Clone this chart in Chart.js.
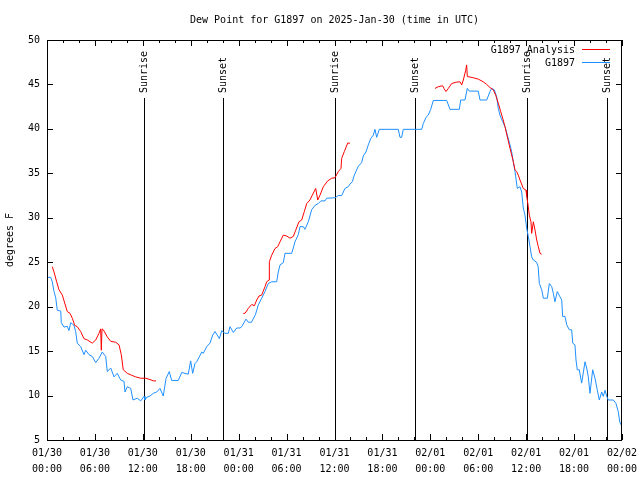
<!DOCTYPE html>
<html>
<head>
<meta charset="utf-8">
<script src="https://cdn.jsdelivr.net/npm/chart.js@4"></script>
<style>
  body { margin: 0; background: #fff; }
  canvas { display: block; }
</style>
</head>
<body>
<canvas id="myChart" width="640" height="480"></canvas>
<script>
// Dados (horas desde 01/30 00:00 UTC)
const stationHours = [0, 0.46, 0.66, 0.88, 1.09, 1.29, 1.72, 1.79, 2.13, 2.54, 2.75, 2.97, 3.38, 3.59, 3.79, 4.22, 4.63, 4.85, 5.26, 5.67,
  6.1, 6.51, 6.92, 7.35, 7.55, 7.98, 8.39, 8.8, 9.23, 9.64, 9.77, 10.05, 10.48, 10.77, 11.3, 11.73, 12.15, 12.27, 12.48, 12.9,
  13.31, 13.74, 14.15, 14.56, 14.9, 15.31, 15.61, 16.44, 16.87, 17.69, 17.99, 18.24, 18.53, 18.74, 19.07, 19.37, 19.57, 20.0, 20.41, 20.75,
  21.04, 21.32, 21.58, 21.88, 22.29, 22.7, 22.92, 23.33, 23.75, 24.17, 24.38, 24.92, 25.2, 25.6, 26.1, 26.46, 26.88, 27.3, 27.7, 28.14,
  28.76, 28.96, 29.18, 29.59, 29.8, 30.64, 30.84, 31.05, 31.47, 31.68, 32.09, 32.3, 32.72, 33.14, 33.56, 33.97, 34.3, 34.81, 35.02, 36.06,
  36.48, 36.9, 37.31, 37.73, 37.94, 38.23, 38.48, 38.98, 39.4, 39.6, 39.94, 40.23, 40.53, 40.86, 41.07, 41.28, 41.61, 43.99, 44.2, 44.41,
  44.61, 46.92, 47.12, 47.46, 47.74, 48.05, 48.37, 50.05, 50.46, 51.63, 51.8, 52.34, 52.63, 52.88, 54.0, 54.22, 55.06, 55.47, 55.68, 56.01,
  56.31, 56.51, 56.72, 57.06, 57.35, 57.64, 57.98, 58.19, 58.39, 58.6, 58.89, 59.23, 59.44, 59.64, 59.85, 60.07, 60.27, 60.48, 60.69, 60.9,
  61.3, 61.5, 61.65, 61.95, 62.15, 62.65, 62.9, 63.2, 63.4, 63.6, 63.9, 64.24, 64.45, 64.57, 64.86, 65.08, 65.4, 65.7, 65.83, 66.11,
  66.24, 66.4, 66.65, 66.95, 67.37, 67.58, 67.78, 67.99, 68.33, 68.62, 68.91, 69.16, 69.46, 69.66, 69.87, 70.09, 70.29, 70.92, 71.25, 71.53,
  71.74, 71.9];
const stationDew = [23.3, 23.3, 22.8, 21.7, 21.0, 19.6, 19.5, 18.2, 17.7, 17.8, 17.3, 18.2, 17.9, 17.2, 15.9, 15.5, 14.6, 15.1, 14.6, 14.4,
  13.7, 14.2, 14.9, 14.4, 12.7, 13.1, 12.1, 12.5, 11.75, 11.6, 10.4, 11.0, 10.8, 9.5, 9.7, 9.4, 9.9, 9.5, 9.8, 9.95,
  10.25, 10.4, 10.8, 9.95, 11.9, 12.7, 11.7, 11.7, 12.6, 12.4, 13.9, 12.5, 13.6, 13.8, 14.35, 14.9, 14.75, 15.5, 15.9, 16.8,
  17.2, 16.8, 16.4, 17.3, 17.0, 17.0, 17.75, 17.1, 17.6, 17.6, 17.75, 18.6, 18.25, 18.25, 19.1, 20.2, 20.95, 21.7, 22.6, 22.8,
  22.8, 23.9, 24.7, 24.95, 26.0, 26.0, 26.6, 27.3, 28.1, 29.0, 29.0, 28.7, 29.55, 30.9, 31.4, 31.6, 31.9, 31.9, 32.2, 32.25,
  32.5, 32.5, 33.3, 33.5, 33.8, 34.05, 34.8, 35.8, 36.2, 36.95, 37.4, 38.2, 38.9, 39.3, 39.95, 39.05, 39.95, 39.95, 39.05, 39.05,
  39.95, 39.95, 40.6, 41.3, 41.55, 42.2, 43.2, 43.2, 42.2, 42.2, 43.25, 43.25, 44.55, 44.25, 44.25, 43.25, 43.25, 44.2, 44.55, 44.4,
  43.6, 42.3, 41.55, 40.8, 40.25, 39.3, 38.2, 37.4, 36.3, 35.2, 33.3, 33.5, 32.9, 31.1, 30.3, 28.8, 27.9, 26.75, 25.6, 25.25,
  25.0, 24.5, 22.6, 21.9, 20.95, 20.95, 22.6, 22.25, 21.5, 20.55, 21.7, 21.1, 20.75, 18.9, 18.9, 17.95, 17.4, 17.4, 15.9, 15.7,
  14.0, 12.9, 12.9, 11.4, 13.8, 13.1, 12.1, 10.25, 12.9, 11.95, 10.6, 9.5, 10.4, 9.9, 10.6, 9.9, 9.5, 9.5, 9.1, 8.2,
  6.95, 6.7];

// Análise: null separa os trechos sem dados
const analysisHours = [0.66, 0.88, 1.21, 1.5, 1.92, 2.22, 2.54, 2.88, 3.17, 3.47, 3.79, 4.22, 4.63, 5.05, 5.67, 6.1, 6.51, 6.72, 6.8, 6.89,
  7.05, 7.55, 7.98, 8.6, 9.02, 9.3, 9.55, 10.05, 10.56, 11.1, 11.73, 12.36, 12.9, 13.31, 13.65,
  18,
  24.58, 24.8, 25.2, 25.63, 25.96, 26.26, 26.55, 26.88, 27.3, 27.51, 27.8, 27.84, 28.14, 28.55, 28.89, 29.18, 29.59, 30.02, 30.43, 30.84,
  31.14, 31.55, 31.89, 32.22, 32.52, 32.93, 33.22, 33.65, 33.9, 34.19, 34.6, 35.15, 35.65, 36.06, 36.48, 36.81, 36.9, 37.23, 37.65, 37.94,
  42,
  48.58, 49.0, 49.55, 49.71, 49.96, 50.25, 50.67, 51.21, 51.71, 51.93, 52.13, 52.43, 52.55, 52.63, 53.38, 54.0, 54.63, 55.06, 55.47, 55.88,
  56.18, 56.51, 56.81, 57.06, 57.35, 57.64, 57.98, 58.19, 58.39, 58.6, 58.81, 59.01, 59.23, 59.64, 59.98, 60.07, 60.27, 60.39, 60.6, 60.69,
  60.9, 61.11, 61.32, 61.52, 61.73, 61.94];
const analysisDew = [24.5, 23.9, 22.8, 21.9, 21.3, 20.4, 19.45, 19.25, 18.7, 17.9, 17.75, 17.2, 16.4, 16.25, 15.9, 16.25, 17.0, 17.5, 15.1, 17.5,
  17.4, 16.6, 16.1, 16.0, 15.7, 14.6, 12.9, 12.5, 12.3, 12.1, 11.95, 11.95, 11.8, 11.65, 11.65,
  null,
  19.25, 19.25, 19.8, 20.25, 20.1, 20.75, 21.2, 21.3, 22.25, 22.8, 23.0, 25.05, 25.8, 26.55, 26.75, 27.3, 28.05, 27.95, 27.7, 27.9,
  28.6, 29.55, 29.75, 30.7, 31.6, 32.0, 32.55, 33.3, 32.0, 32.55, 33.5, 34.15, 34.45, 34.5, 35.2, 35.55, 36.7, 37.45, 38.4, 38.4,
  null,
  44.55, 44.75, 44.85, 44.55, 44.2, 44.55, 45.1, 45.25, 45.3, 44.95, 45.5, 46.6, 47.2, 45.9, 45.75, 45.6, 45.3, 45.0, 44.65, 44.4,
  43.8, 42.9, 41.95, 41.2, 40.25, 39.1, 37.8, 37.05, 36.3, 35.4, 35.2, 34.8, 34.25, 33.3, 33.1, 32.4, 31.25, 30.3, 29.55, 28.25,
  29.55, 28.6, 27.5, 26.75, 26.0, 25.9];

// Nascer / pôr do sol
const sunHours = [12.2, 22.05, 36.08, 46.1, 60.12, 70.14];
const sunNames = ['Sunrise', 'Sunset', 'Sunrise', 'Sunset', 'Sunrise', 'Sunset'];

// Rótulos do eixo x (a cada 6 horas)
const xDates = ['01/30', '01/30', '01/30', '01/30', '01/31', '01/31', '01/31', '01/31', '02/01', '02/01', '02/01', '02/01', '02/02'];
const xTimes = ['00:00', '06:00', '12:00', '18:00', '00:00', '06:00', '12:00', '18:00', '00:00', '06:00', '12:00', '18:00', '00:00'];

const titleText = 'Dew Point for G1897 on 2025-Jan-30 (time in UTC)';
const FONT = '10px "DejaVu Sans Mono", monospace';

const stationPoints = stationHours.map((h, i) => ({ x: h, y: stationDew[i] }));
const analysisPoints = analysisHours.map((h, i) => ({ x: h, y: analysisDew[i] }));

// Desenha moldura, marcas, textos e linhas do sol (estilo gnuplot)
const gnuplotStyle = {
    id: 'gnuplotStyle',
    beforeDatasetsDraw(chart) {
        const ctx = chart.ctx;
        const area = chart.chartArea;
        const x = chart.scales.x;
        ctx.save();
        ctx.strokeStyle = '#000';
        ctx.lineWidth = 1;
        ctx.fillStyle = '#000';
        ctx.font = FONT;
        sunHours.forEach((h, i) => {
            const px = Math.round(x.getPixelForValue(h)) + 0.5;
            ctx.beginPath();
            ctx.moveTo(px, area.bottom);
            ctx.lineTo(px, area.top + 58);
            ctx.stroke();
            ctx.save();
            ctx.translate(px, area.top + 53);
            ctx.rotate(-Math.PI / 2);
            ctx.textAlign = 'left';
            ctx.textBaseline = 'middle';
            ctx.fillText(sunNames[i], 0, 0);
            ctx.restore();
        });
        ctx.restore();
    },
    afterDraw(chart) {
        const ctx = chart.ctx;
        const area = chart.chartArea;
        const x = chart.scales.x;
        const y = chart.scales.y;
        ctx.save();
        ctx.strokeStyle = '#000';
        ctx.lineWidth = 1;

        // moldura
        ctx.strokeRect(area.left + 0.5, area.top + 0.5, area.right - area.left - 1, area.bottom - area.top);

        // marcas do eixo x (2 em 2 horas), espelhadas em cima
        ctx.beginPath();
        for (let h = 0; h <= 72; h += 2) {
            const px = Math.round(x.getPixelForValue(h)) + 0.5;
            const len = h % 6 === 0 ? 6 : 3;
            ctx.moveTo(px, area.bottom);
            ctx.lineTo(px, area.bottom - len);
            ctx.moveTo(px, area.top);
            ctx.lineTo(px, area.top + len);
        }
        // marcas do eixo y, espelhadas à direita
        for (let v = 5; v <= 50; v += 5) {
            const py = Math.round(y.getPixelForValue(v)) + 0.5;
            ctx.moveTo(area.left, py);
            ctx.lineTo(area.left + 6, py);
            ctx.moveTo(area.right, py);
            ctx.lineTo(area.right - 6, py);
        }
        ctx.stroke();

        ctx.fillStyle = '#000';
        ctx.font = FONT;

        // título
        ctx.textAlign = 'center';
        ctx.textBaseline = 'middle';
        ctx.fillText(titleText, (area.left + area.right) / 2, 20);

        // rótulo do eixo y
        ctx.save();
        ctx.translate(10, (area.top + area.bottom) / 2);
        ctx.rotate(-Math.PI / 2);
        ctx.fillText('degrees F', 0, 0);
        ctx.restore();

        // legenda
        const legend = [
            { label: 'G1897 Analysis', color: '#ff0000', y: 50 },
            { label: 'G1897', color: '#1e8fff', y: 63 }
        ];
        legend.forEach(item => {
            ctx.textAlign = 'right';
            ctx.fillStyle = '#000';
            ctx.fillText(item.label, 575, item.y);
            ctx.strokeStyle = item.color;
            ctx.beginPath();
            ctx.moveTo(582, item.y - 0.5);
            ctx.lineTo(610, item.y - 0.5);
            ctx.stroke();
        });
        ctx.restore();
    }
};

const ctx = document.getElementById('myChart').getContext('2d');
new Chart(ctx, {
    type: 'line',
    data: {
        datasets: [{
            label: 'G1897 Analysis',
            data: analysisPoints,
            borderColor: '#ff0000',
            borderWidth: 1,
            pointRadius: 0,
            spanGaps: false,
            tension: 0
        }, {
            label: 'G1897',
            data: stationPoints,
            borderColor: '#1e8fff',
            borderWidth: 1,
            pointRadius: 0,
            tension: 0
        }]
    },
    options: {
        responsive: false,
        animation: false,
        layout: { padding: { top: 40, right: 18, left: 0, bottom: 0 } },
        plugins: {
            legend: { display: false },
            title: { display: false },
            tooltip: { enabled: false }
        },
        scales: {
            x: {
                type: 'linear',
                min: 0,
                max: 72,
                grid: { display: false, drawTicks: false },
                border: { display: false },
                ticks: {
                    stepSize: 6,
                    autoSkip: false,
                    maxRotation: 0,
                    padding: 5,
                    color: '#000',
                    font: { family: '"DejaVu Sans Mono", monospace', size: 10, lineHeight: 1.6 },
                    callback: (value) => {
                        const i = Math.round(value / 6);
                        return [xDates[i], xTimes[i]];
                    }
                },
                afterFit: (scale) => {
                    scale.height = 40;
                    scale.paddingLeft = 0;
                    scale.paddingRight = 0;
                }
            },
            y: {
                min: 5,
                max: 50,
                grid: { display: false, drawTicks: false },
                border: { display: false },
                ticks: {
                    stepSize: 5,
                    padding: 7,
                    color: '#000',
                    font: { family: '"DejaVu Sans Mono", monospace', size: 10 }
                },
                afterFit: (scale) => {
                    scale.width = 47;
                    scale.paddingTop = 0;
                    scale.paddingBottom = 0;
                }
            }
        }
    },
    plugins: [gnuplotStyle]
});
</script>
</body>
</html>
